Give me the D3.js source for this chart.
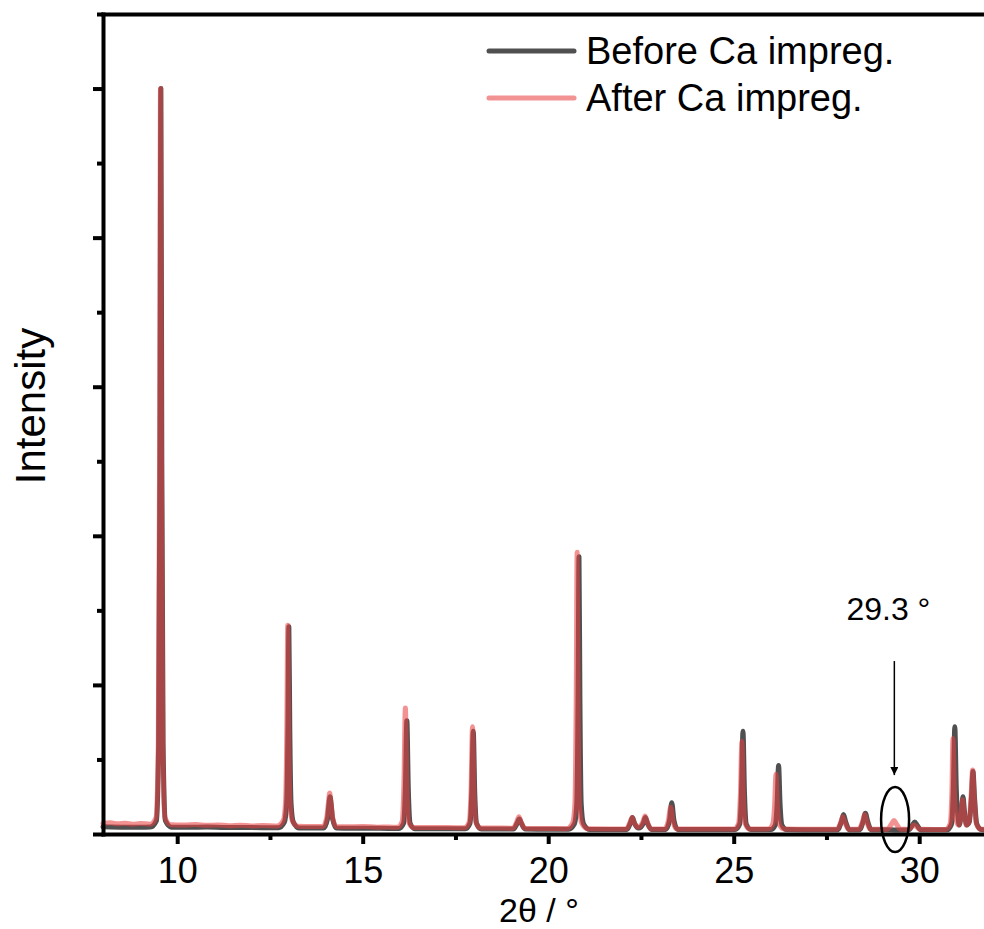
<!DOCTYPE html>
<html>
<head>
<meta charset="utf-8">
<script src="https://cdn.jsdelivr.net/npm/d3@7"></script>
<style>
  body { margin: 0; background: #fff; }
  svg { display: block; font-family: "Liberation Sans", Arial, sans-serif; }
</style>
</head>
<body>
<svg id="chart" width="984" height="929"></svg>
<script>
// ================= DATA (2theta in degrees, intensity in a.u.) =================
const xTicks = [10, 15, 20, 25, 30];
const xMinorTicks = [12.5, 17.5, 22.5, 27.5];
const yTicks = [0, 1, 2, 3, 4, 5];
const yMinorTicks = [0.5, 1.5, 2.5, 3.5, 4.5, 5.5];

const seriesNames = ["Before Ca impreg.", "After Ca impreg."];

// before Ca impregnation (dark grey)
const beforePts = [
  [8.0,0.048],[8.5,0.046],[9.0,0.045],[9.28,0.047],
  [9.44,0.09],[9.50,0.6],[9.535,2.5],[9.56,5.0],[9.585,2.5],[9.62,0.6],[9.68,0.09],[9.84,0.046],
  [10.3,0.045],[10.8,0.047],[11.3,0.043],[11.8,0.044],[12.3,0.042],[12.73,0.042],
  [12.89,0.08],[12.95,0.2],[12.985,0.7],[13.01,1.39],[13.035,0.7],[13.07,0.2],[13.13,0.08],[13.29,0.04],
  [13.6,0.041],[13.95,0.04],
  [14.05,0.1],[14.09,0.2],[14.12,0.25],[14.15,0.2],[14.19,0.1],[14.29,0.04],
  [14.7,0.038],[15.2,0.039],[15.7,0.037],[15.98,0.037],
  [16.1,0.07],[16.15,0.3],[16.19,0.76],[16.23,0.3],[16.28,0.07],[16.4,0.036],
  [16.8,0.036],[17.3,0.035],[17.77,0.035],
  [17.89,0.07],[17.94,0.28],[17.98,0.69],[18.02,0.28],[18.07,0.07],[18.19,0.034],
  [18.6,0.034],[19.06,0.033],
  [19.16,0.07],[19.22,0.10],[19.28,0.07],[19.38,0.033],
  [19.9,0.032],[20.3,0.032],[20.55,0.032],
  [20.71,0.07],[20.77,0.2],[20.805,0.9],[20.83,1.86],[20.855,0.9],[20.89,0.2],[20.95,0.07],[21.11,0.031],
  [21.6,0.031],[22.12,0.031],
  [22.21,0.07],[22.27,0.11],[22.33,0.07],[22.44,0.04],[22.56,0.07],[22.62,0.11],[22.68,0.07],[22.78,0.031],
  [23.17,0.031],
  [23.27,0.09],[23.33,0.21],[23.39,0.09],[23.49,0.03],
  [24.0,0.03],[24.5,0.03],[25.04,0.03],
  [25.16,0.065],[25.21,0.28],[25.25,0.69],[25.29,0.28],[25.34,0.065],[25.46,0.03],
  [25.8,0.03],[26.0,0.03],
  [26.12,0.06],[26.17,0.2],[26.21,0.46],[26.25,0.2],[26.3,0.06],[26.42,0.03],
  [26.9,0.029],[27.4,0.029],[27.8,0.029],
  [27.9,0.08],[27.96,0.13],[28.02,0.08],[28.12,0.029],[28.39,0.029],
  [28.49,0.085],[28.55,0.14],[28.61,0.085],[28.71,0.029],
  [29.0,0.029],[29.35,0.027],[29.72,0.029],
  [29.82,0.06],[29.88,0.08],[29.94,0.06],[30.04,0.029],
  [30.4,0.028],[30.75,0.028],
  [30.87,0.065],[30.92,0.3],[30.96,0.72],[31.0,0.3],[31.05,0.1],[31.08,0.06],
  [31.14,0.15],[31.18,0.25],[31.22,0.15],[31.28,0.06],
  [31.35,0.08],[31.41,0.25],[31.45,0.42],[31.49,0.25],[31.55,0.07],[31.67,0.03],[32.0,0.028]
];

// after Ca impregnation (pink)
const afterPts = [
  [8.0,0.07],[8.2,0.075],[8.4,0.068],[8.6,0.072],[8.8,0.066],[9.0,0.07],[9.28,0.066],
  [9.43,0.11],[9.49,0.6],[9.525,2.5],[9.55,5.0],[9.575,2.5],[9.61,0.6],[9.67,0.11],[9.83,0.062],
  [10.2,0.06],[10.5,0.064],[10.8,0.058],[11.1,0.061],[11.4,0.056],[11.7,0.059],[12.0,0.054],[12.3,0.057],[12.7,0.054],
  [12.86,0.09],[12.92,0.21],[12.955,0.7],[12.98,1.40],[13.005,0.7],[13.04,0.21],[13.1,0.09],[13.26,0.052],
  [13.6,0.05],[13.93,0.05],
  [14.03,0.11],[14.08,0.22],[14.11,0.275],[14.14,0.22],[14.19,0.11],[14.29,0.049],
  [14.6,0.048],[15.0,0.05],[15.4,0.046],[15.7,0.047],[15.94,0.045],
  [16.06,0.08],[16.11,0.33],[16.15,0.845],[16.19,0.33],[16.24,0.08],[16.36,0.044],
  [16.8,0.043],[17.3,0.043],[17.75,0.042],
  [17.87,0.08],[17.92,0.29],[17.96,0.72],[18.0,0.29],[18.05,0.08],[18.17,0.041],
  [18.6,0.04],[19.05,0.039],
  [19.15,0.08],[19.21,0.115],[19.27,0.08],[19.37,0.038],
  [19.9,0.037],[20.5,0.036],
  [20.66,0.075],[20.72,0.2],[20.755,0.9],[20.78,1.89],[20.805,0.9],[20.84,0.2],[20.9,0.075],[21.06,0.035],
  [21.6,0.034],[22.1,0.034],
  [22.2,0.075],[22.26,0.11],[22.32,0.075],[22.43,0.045],[22.55,0.08],[22.61,0.12],[22.67,0.08],[22.77,0.034],
  [23.14,0.034],
  [23.24,0.09],[23.3,0.18],[23.36,0.09],[23.46,0.033],
  [24.0,0.033],[24.5,0.033],[25.01,0.033],
  [25.13,0.07],[25.18,0.26],[25.22,0.62],[25.26,0.26],[25.31,0.07],[25.43,0.033],
  [25.93,0.033],
  [26.05,0.065],[26.1,0.18],[26.14,0.40],[26.18,0.18],[26.23,0.065],[26.35,0.033],
  [26.9,0.032],[27.4,0.032],[27.78,0.032],
  [27.88,0.075],[27.94,0.115],[28.0,0.075],[28.1,0.032],[28.37,0.032],
  [28.47,0.08],[28.53,0.13],[28.59,0.08],[28.69,0.032],
  [29.0,0.032],[29.14,0.032],
  [29.25,0.065],[29.32,0.09],[29.39,0.065],[29.5,0.032],[29.7,0.032],
  [29.8,0.05],[29.86,0.06],[29.92,0.05],[30.02,0.032],
  [30.4,0.031],[30.71,0.031],
  [30.83,0.065],[30.88,0.27],[30.91,0.64],[30.95,0.27],[31.0,0.09],[31.06,0.06],
  [31.12,0.14],[31.17,0.23],[31.21,0.14],[31.27,0.06],
  [31.34,0.08],[31.40,0.26],[31.44,0.43],[31.48,0.26],[31.54,0.07],[31.66,0.032],[32.0,0.031]
];

// annotation
const markTheta = 29.33;
const markLabel = "29.3 °";

// ================= SETUP =================
const svg = d3.select("#chart");
const font = "'Liberation Sans', Arial, sans-serif";

const x = d3.scaleLinear().domain([8, 32]).range([103, 993.4]);
const y = d3.scaleLinear().domain([0, 5.5]).range([834, 14]);

const greyCol = "#505050";
const pinkCol = "rgb(234,64,64)";
const pinkOpacity = 0.57;

// ================= LINES =================
const line = d3.line()
  .x(d => x(d[0]))
  .y(d => y(d[1]))
  .curve(d3.curveMonotoneX);

svg.append("path")
  .datum(beforePts)
  .attr("fill", "none")
  .attr("stroke", greyCol)
  .attr("stroke-width", 5)
  .attr("stroke-linejoin", "round")
  .attr("stroke-linecap", "round")
  .attr("d", line);

svg.append("path")
  .datum(afterPts)
  .attr("fill", "none")
  .attr("stroke", pinkCol)
  .attr("stroke-opacity", pinkOpacity)
  .attr("stroke-width", 5)
  .attr("stroke-linejoin", "round")
  .attr("stroke-linecap", "round")
  .attr("d", line);

// ================= AXES =================
function styleAxis(g) {
  g.select(".domain").attr("stroke", "#000").attr("stroke-width", 4).attr("stroke-linecap", "square");
  g.selectAll(".tick line").attr("stroke", "#000").attr("stroke-width", 4);
  g.selectAll(".tick text").attr("fill", "#000").style("font-family", font).style("font-size", "36px");
}

// bottom
svg.append("g")
  .attr("transform", "translate(0," + y(0) + ")")
  .call(d3.axisBottom(x).tickValues(xTicks).tickSize(10).tickSizeOuter(0).tickPadding(13).tickFormat(d3.format("d")))
  .call(styleAxis);

svg.append("g")
  .attr("transform", "translate(0," + y(0) + ")")
  .call(d3.axisBottom(x).tickValues(xMinorTicks).tickSize(6).tickFormat(""))
  .call(g => g.select(".domain").remove())
  .call(styleAxis);

// left
svg.append("g")
  .attr("transform", "translate(" + x(8) + ",0)")
  .call(d3.axisLeft(y).tickValues(yTicks).tickSize(10).tickSizeOuter(0).tickFormat(""))
  .call(styleAxis);

svg.append("g")
  .attr("transform", "translate(" + x(8) + ",0)")
  .call(d3.axisLeft(y).tickValues(yMinorTicks).tickSize(6).tickFormat(""))
  .call(g => g.select(".domain").remove())
  .call(styleAxis);

// top border
svg.append("g")
  .attr("transform", "translate(0," + y(5.5) + ")")
  .call(d3.axisTop(x).tickValues([]).tickSizeOuter(0))
  .call(styleAxis);

// axis titles
svg.append("text")
  .attr("x", 539)
  .attr("y", 922)
  .attr("text-anchor", "middle")
  .style("font-family", font)
  .style("font-size", "34px")
  .text("2θ / °");

svg.append("text")
  .attr("transform", "translate(45,406) rotate(-90)")
  .attr("text-anchor", "middle")
  .style("font-family", font)
  .style("font-size", "42px")
  .text("Intensity");

// ================= LEGEND =================
const legend = svg.selectAll(".legend")
  .data(seriesNames)
  .enter().append("g")
  .attr("class", "legend")
  .attr("transform", (d, i) => "translate(0," + (47 * i) + ")");

legend.append("line")
  .attr("x1", 489).attr("x2", 574)
  .attr("y1", 51).attr("y2", 51)
  .attr("stroke", (d, i) => i === 0 ? greyCol : pinkCol)
  .attr("stroke-opacity", (d, i) => i === 0 ? 1 : pinkOpacity)
  .attr("stroke-width", 5)
  .attr("stroke-linecap", "round");

legend.append("text")
  .attr("x", 586)
  .attr("y", 64)
  .style("font-family", font)
  .style("font-size", "38px")
  .text(d => d);

// ================= ANNOTATION =================
const defs = svg.append("defs");
defs.append("marker")
  .attr("id", "arrow")
  .attr("viewBox", "0 0 10 10")
  .attr("refX", 10).attr("refY", 5)
  .attr("markerWidth", 14).attr("markerHeight", 8)
  .attr("markerUnits", "userSpaceOnUse")
  .attr("orient", "auto")
  .append("path")
  .attr("d", "M0,0 L10,5 L0,10 Z")
  .attr("fill", "#000");

svg.append("line")
  .attr("x1", x(markTheta)).attr("x2", x(markTheta))
  .attr("y1", y(1.16)).attr("y2", y(0.395))
  .attr("stroke", "#000")
  .attr("stroke-width", 1.5)
  .attr("marker-end", "url(#arrow)");

svg.append("ellipse")
  .attr("cx", x(29.35))
  .attr("cy", y(0.097))
  .attr("rx", 14)
  .attr("ry", 32.5)
  .attr("fill", "none")
  .attr("stroke", "#000")
  .attr("stroke-width", 2.5);

svg.append("text")
  .attr("x", x(29.17))
  .attr("y", y(1.435))
  .attr("text-anchor", "middle")
  .style("font-family", font)
  .style("font-size", "32px")
  .text(markLabel);
</script>
</body>
</html>
